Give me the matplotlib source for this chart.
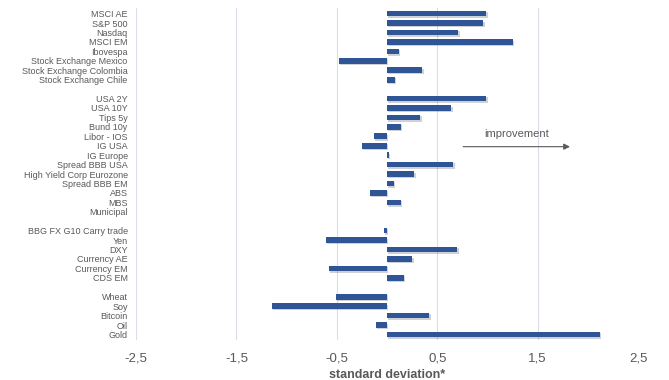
import matplotlib
matplotlib.use("Agg")
import matplotlib.pyplot as plt
import matplotlib.patheffects as pe

plt.rcParams["font.family"] = ["Liberation Sans", "DejaVu Sans"]

# rows top to bottom; "" marks the gap between groups
labels = ["MSCI AE", "S&P 500", "Nasdaq", "MSCI EM", "Ibovespa", "Stock Exchange Mexico",
          "Stock Exchange Colombia", "Stock Exchange Chile", "",
          "USA 2Y", "USA 10Y", "Tips 5y", "Bund 10y", "Libor - IOS", "IG USA", "IG Europe",
          "Spread BBB USA", "High Yield Corp Eurozone", "Spread BBB EM", "ABS", "MBS", "Municipal", "",
          "BBG FX G10 Carry trade", "Yen", "DXY", "Currency AE", "Currency EM", "CDS EM", "",
          "Wheat", "Soy", "Bitcoin", "Oil", "Gold"]
values = [0.99, 0.96, 0.71, 1.25, 0.12, -0.48, 0.35, 0.08, 0,
          0.99, 0.64, 0.33, 0.14, -0.13, -0.25, 0.02, 0.66, 0.27, 0.07, -0.17, 0.14, 0.0, 0,
          -0.03, -0.61, 0.70, 0.25, -0.58, 0.17, 0,
          -0.51, -1.15, 0.42, -0.11, 2.12]
xticks = [-2.5, -1.5, -0.5, 0.5, 1.5, 2.5]
xticklabels = ["-2,5", "-1,5", "-0,5", "0,5", "1,5", "2,5"]

fig = plt.figure(figsize=(6.69, 3.80), dpi=100)
ax = fig.add_axes([0.2033, 0.105, 0.7504, 0.874])

pos = list(range(len(labels)))
bars = ax.barh(pos, values, height=0.6, color="#2F5597", zorder=3)
for b in bars:
    b.set_path_effects([pe.SimplePatchShadow(offset=(1, -1), alpha=0.2), pe.Normal()])

ax.set_ylim(len(labels) - 0.4, -0.6)
ax.set_xlim(-2.5, 2.5)
ax.set_yticks(pos)
ax.set_yticklabels(labels, fontsize=6.5, color="#595959")
ax.set_xticks(xticks)
ax.set_xticklabels(xticklabels, fontsize=9.5, color="#595959")
ax.tick_params(length=0)
ax.tick_params(axis="y", pad=6)
ax.tick_params(axis="x", pad=9)
ax.grid(axis="x", color="#D9DEEA", linewidth=0.8, zorder=0)
for s in ax.spines.values():
    s.set_visible(False)

ax.set_xlabel("standard deviation*", fontsize=9, color="#595959", fontweight="bold", labelpad=3)

ax.annotate("", xy=(1.85, 14.1), xytext=(0.73, 14.1),
            arrowprops=dict(arrowstyle="-|>", color="#595959", lw=0.8, mutation_scale=9))
ax.text(1.29, 12.8, "improvement", fontsize=8, color="#595959", ha="center", va="center")

plt.savefig("out.png", dpi=100)
